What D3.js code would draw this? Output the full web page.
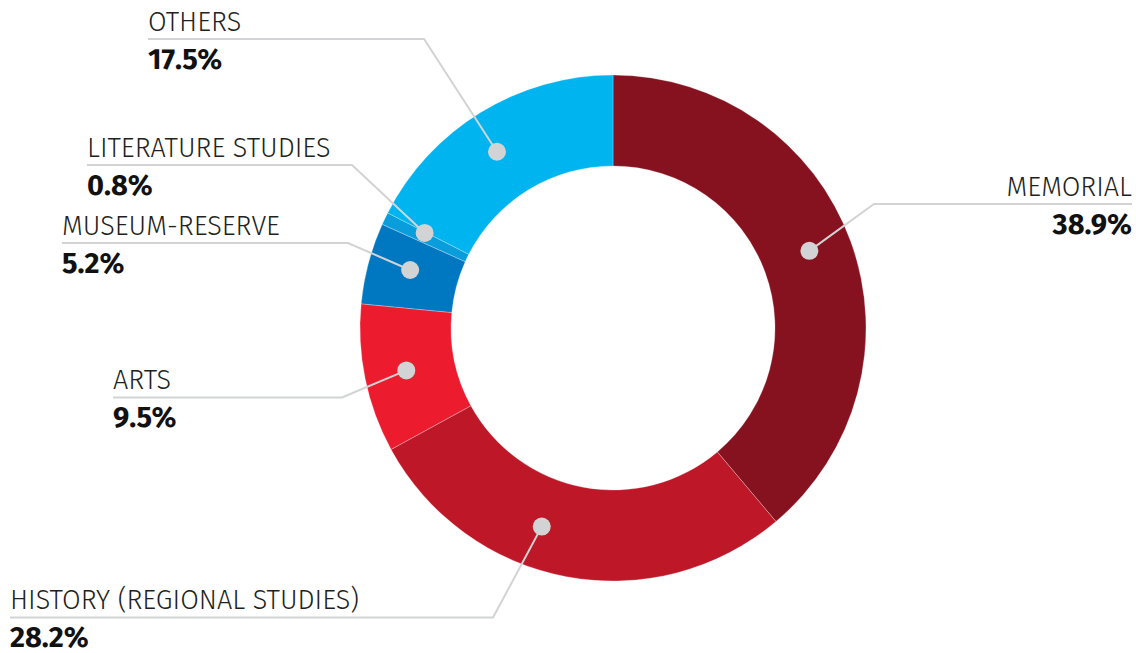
<!DOCTYPE html>
<html>
<head>
<meta charset="utf-8">
<script src="https://cdn.jsdelivr.net/npm/d3@7"></script>
<style>
  html, body { margin: 0; padding: 0; background: #fff; }
  svg { display: block; font-family: "Fira Sans", "Open Sans", sans-serif; }
  .cat { font-weight: 300; font-size: 27px; fill: #231f20; }
  .pct { font-weight: 700; font-size: 29px; fill: #111; }
</style>
</head>
<body>
<div id="chart"></div>
<script>
const categories = ["MEMORIAL", "HISTORY (REGIONAL STUDIES)", "ARTS", "MUSEUM-RESERVE", "LITERATURE STUDIES", "OTHERS"];
const shares = [38.9, 28.2, 9.5, 5.2, 0.8, 17.5];
const colors = ["#86121f", "#be1828", "#ec1c2e", "#0078c1", "#0a9ddc", "#00b5ef"];

// where each leader dot sits inside its slice (0 = start angle, 1 = end angle)
const dotFraction = [0.49, 0.59, 0.5, 0.56, 0.9, 0.47];

// label placement: text x, underline y, elbow x, anchor side
const labelLayout = [
  { x: 1132, y: 204, elbow: 874, anchor: "end" },
  { x: 10, y: 617.5, elbow: 493, anchor: "start" },
  { x: 113, y: 397.5, elbow: 342, anchor: "start" },
  { x: 62, y: 243, elbow: 348, anchor: "start" },
  { x: 87, y: 165, elbow: 352, anchor: "start" },
  { x: 148, y: 39, elbow: 424, anchor: "start" },
];

const width = 1136;
const height = 653;
const cx = 613;
const cy = 328;
const outerR = 253;
const innerR = 162;
const dotR = 211;

const data = categories.map((c, i) => ({
  name: c,
  value: shares[i],
  color: colors[i],
  frac: dotFraction[i],
  layout: labelLayout[i],
}));

const svg = d3
  .select("#chart")
  .append("svg")
  .attr("width", width)
  .attr("height", height)
  .attr("viewBox", [0, 0, width, height]);

const pie = d3.pie().sort(null).value((d) => d.value);
const arcs = pie(data);

const arc = d3.arc().innerRadius(innerR).outerRadius(outerR);

const g = svg.append("g").attr("transform", `translate(${cx},${cy})`);

g.selectAll("path.slice")
  .data(arcs)
  .join("path")
  .attr("class", "slice")
  .attr("d", arc)
  .attr("fill", (d) => d.data.color)
  .attr("stroke", "rgba(255,255,255,0.45)")
  .attr("stroke-width", 0.6);

// dot positions along a thin ring inside the donut
const ring = d3.arc().innerRadius(dotR).outerRadius(dotR);
const dotPoint = (d) => {
  const a = d.startAngle + (d.endAngle - d.startAngle) * d.data.frac;
  const [x, y] = ring.centroid({ startAngle: a, endAngle: a });
  return [x + cx, y + cy];
};

const lineColor = "#d1d3d4";

// leader lines (underline + diagonal to the dot)
svg
  .selectAll("path.leader")
  .data(arcs)
  .join("path")
  .attr("class", "leader")
  .attr("fill", "none")
  .attr("stroke", lineColor)
  .attr("stroke-width", 2)
  .attr("d", (d) => {
    const l = d.data.layout;
    const [px, py] = dotPoint(d);
    return d3.line()([
      [l.x, l.y],
      [l.elbow, l.y],
      [px, py],
    ]);
  });

svg
  .selectAll("circle.dot")
  .data(arcs)
  .join("circle")
  .attr("class", "dot")
  .attr("cx", (d) => dotPoint(d)[0])
  .attr("cy", (d) => dotPoint(d)[1])
  .attr("r", 9)
  .attr("fill", lineColor);

const labels = svg
  .selectAll("g.label")
  .data(arcs)
  .join("g")
  .attr("class", "label")
  .attr("text-anchor", (d) => d.data.layout.anchor);

labels
  .append("text")
  .attr("class", "cat")
  .attr("x", (d) => d.data.layout.x)
  .attr("y", (d) => d.data.layout.y - 8.5)
  .text((d) => d.data.name);

labels
  .append("text")
  .attr("class", "pct")
  .attr("x", (d) => d.data.layout.x)
  .attr("y", (d) => d.data.layout.y + 29.5)
  .text((d) => `${d.data.value.toFixed(1)}%`);
</script>
</body>
</html>
